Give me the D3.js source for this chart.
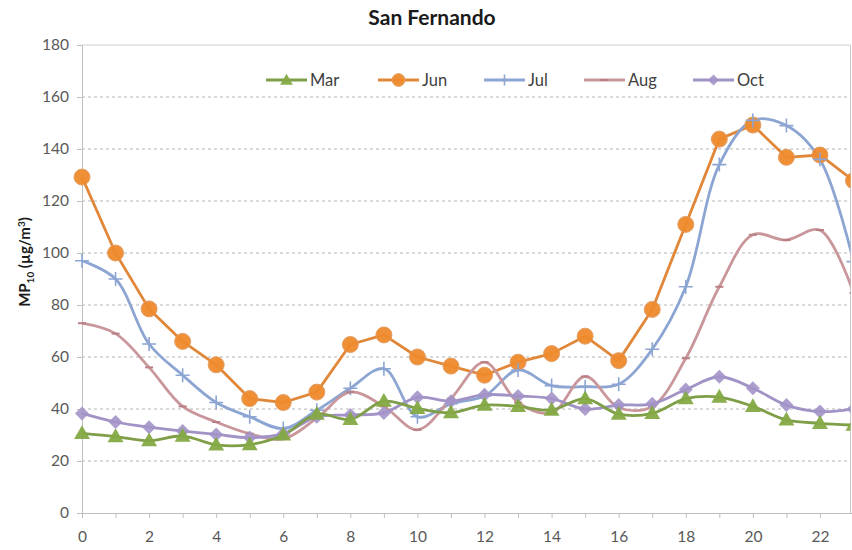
<!DOCTYPE html>
<html><head><meta charset="utf-8">
<script src="https://cdn.jsdelivr.net/npm/d3@7"></script>
<style>body{margin:0;background:#fff}svg{display:block}</style>
</head><body>
<svg id="c" width="852" height="550"></svg>
<script>
const hours = d3.range(0, 24);
const yTicks = [0,20,40,60,80,100,120,140,160,180];
const xTickLabels = [0,2,4,6,8,10,12,14,16,18,20,22];
const mar = [30.6,29.4,27.8,29.6,26.2,26.3,30,38,36,43,40.2,38.6,41.5,41,39.6,44,38,38.3,44,44.6,41,35.8,34.5,33.8];
const jun = [129.2,100,78.5,66,57,44,42.5,46.5,64.8,68.5,60,56.5,53,58,61.3,68,58.6,78.3,111,143.8,149.2,136.8,137.7,127.8];
const jul = [97,90,65,53,42.5,37,32.5,39.5,48,55.5,37,42,45,55,49,48.6,49.5,63,87,134,151,149,136,96.7];
const aug = [73,69,56,41,35,30.5,28.5,36.5,46.5,41,32,44,58,42.5,38.5,52.5,40.5,41,59.5,87,107,105,108.8,84.6];
const oct = [38.3,35,33,31.5,30.2,29,30.5,37,37.7,38.5,44.5,43,45.5,45,44,40,41.5,42,47.5,52.4,48,41.5,39,40];

const seriesNames = ["Mar","Jun","Jul","Aug","Oct"];
const seriesValues = [mar, jun, jul, aug, oct];
const styles = {
  Mar:{line:"#7f9e48", fill:"#84a944", marker:"triangle", curve:d3.curveCatmullRom},
  Jun:{line:"#e0873a", fill:"#ef8a2c", marker:"circle", curve:d3.curveLinear},
  Jul:{line:"#8ca5d2", fill:"#8ca5d2", marker:"plus", curve:d3.curveCatmullRom},
  Aug:{line:"#c9979b", fill:"#c9979b", marker:"dash", curve:d3.curveCatmullRom},
  Oct:{line:"#a193c6", fill:"#a394c8", marker:"diamond", curve:d3.curveCatmullRom}
};

const svg = d3.select("#c");
const font = "Lato, 'Open Sans', sans-serif";
const x = d3.scaleLinear().domain([0,23]).range([82, 853.5]);
const y = d3.scaleLinear().domain([0,180]).range([513, 45]);

const defs = svg.append("defs");
defs.append("clipPath").attr("id","clip").append("rect")
  .attr("x",60).attr("y",20).attr("width",790.5).attr("height",510);

// title
svg.append("text").attr("x",432).attr("y",25).attr("text-anchor","middle")
  .attr("font-family",font).attr("font-weight","bold").attr("font-size",21)
  .attr("fill","#1a1a1a").text("San Fernando");

// gridlines
svg.append("g").selectAll("line").data(yTicks.filter(d=>d>0)).join("line")
  .attr("x1",82).attr("x2",850).attr("y1",d=>y(d)).attr("y2",d=>y(d))
  .attr("stroke", d=>d===180?"#d0d0d0":"#b5b5b5").attr("stroke-width",1)
  .attr("stroke-dasharray", d=>d===180?null:"3,3");

// right border
svg.append("line").attr("x1",850.5).attr("x2",850.5).attr("y1",y(180)).attr("y2",y(0))
  .attr("stroke","#c8c8c8");

// y axis
const yAxis = d3.axisLeft(y).tickValues(yTicks).tickSize(5).tickPadding(8);
const gy = svg.append("g").attr("transform","translate(82,0)").call(yAxis);
gy.select(".domain").attr("stroke","#bfbfbf");
gy.selectAll(".tick line").attr("stroke","#bfbfbf");
gy.selectAll("text").attr("font-family",font).attr("font-size",15.5).attr("fill","#595959");

// x axis
const xAxis = d3.axisBottom(x).tickValues(hours).tickSize(5).tickPadding(13)
  .tickFormat(d=> xTickLabels.includes(d) ? d : "");
const gx = svg.append("g").attr("transform","translate(0,513)").call(xAxis);
gx.select(".domain").attr("stroke","#bfbfbf");
gx.selectAll(".tick line").attr("stroke","#bfbfbf");
gx.selectAll("text").attr("font-family",font).attr("font-size",15.5).attr("fill","#595959");

// y label
const yl = svg.append("text").attr("transform","translate(30,262) rotate(-90)")
  .attr("text-anchor","middle").attr("font-family",font).attr("font-weight","bold")
  .attr("font-size",15).attr("fill","#1a1a1a");
yl.append("tspan").text("MP");
yl.append("tspan").attr("font-size",10).attr("dy",4).text("10");
yl.append("tspan").attr("dy",-4).text(" (µg/m");
yl.append("tspan").attr("font-size",10).attr("dy",-5).text("3");
yl.append("tspan").attr("dy",5).text(")");

function drawMarker(g, type, cx, cy, st, scale) {
  scale = scale || 1;
  if (type==="circle") {
    g.append("circle").attr("cx",cx).attr("cy",cy).attr("r",8*scale)
      .attr("fill",st.fill).attr("stroke","#e39a5c").attr("stroke-width",1).attr("opacity",0.95);
  } else if (type==="triangle") {
    g.append("path").attr("d", d3.symbol().type(d3.symbolTriangle).size(110*scale*scale)())
      .attr("transform",`translate(${cx},${cy+1})`).attr("fill",st.fill).attr("opacity",0.95);
  } else if (type==="diamond") {
    const s=7*scale;
    g.append("path").attr("d",`M${cx},${cy-s}L${cx+s},${cy}L${cx},${cy+s}L${cx-s},${cy}Z`)
      .attr("fill",st.fill).attr("opacity",0.9);
  } else if (type==="plus") {
    const s=7*scale;
    g.append("path").attr("d",`M${cx-s},${cy}H${cx+s}M${cx},${cy-s}V${cy+s}`)
      .attr("stroke",st.line).attr("stroke-width",1.6);
  } else if (type==="dash") {
    g.append("path").attr("d",`M${cx-4},${cy}H${cx+4}`)
      .attr("stroke","#b97f85").attr("stroke-width",2);
  }
}

const plot = svg.append("g").attr("clip-path","url(#clip)");
const drawOrder = ["Jun","Jul","Aug","Oct","Mar"];
drawOrder.forEach(name=>{
  const vals = seriesValues[seriesNames.indexOf(name)];
  const st = styles[name];
  const line = d3.line().x((d,i)=>x(i)).y(d=>y(d)).curve(st.curve);
  plot.append("path").datum(vals).attr("d",line).attr("fill","none")
    .attr("stroke",st.line).attr("stroke-width",2.8).attr("stroke-linejoin","round");
});
drawOrder.forEach(name=>{
  const vals = seriesValues[seriesNames.indexOf(name)];
  const st = styles[name];
  const g = plot.append("g");
  vals.forEach((v,i)=>drawMarker(g, st.marker, x(i), y(v), st));
});

// legend
const legendX = [266, 378, 484, 584, 693];
const lg = svg.append("g");
seriesNames.forEach((name,i)=>{
  const st = styles[name];
  const lx = legendX[i], ly = 80;
  lg.append("line").attr("x1",lx).attr("x2",lx+41).attr("y1",ly).attr("y2",ly)
    .attr("stroke",st.line).attr("stroke-width",2.8);
  drawMarker(lg, st.marker, lx+20.5, ly, st, 0.8);
  lg.append("text").attr("x",lx+44).attr("y",ly+5.5).attr("font-family",font)
    .attr("font-size",16.5).attr("fill","#404040").text(name);
});
</script>
</body></html>
